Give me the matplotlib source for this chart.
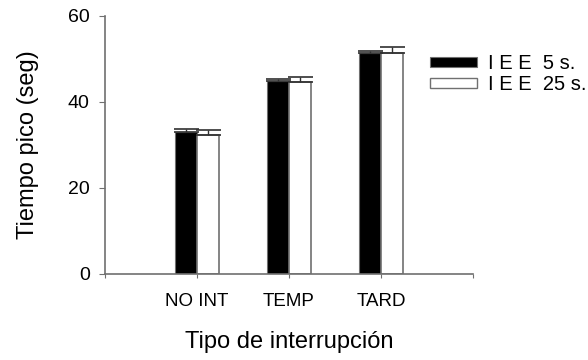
import matplotlib
matplotlib.use("Agg")
import matplotlib.pyplot as plt
from matplotlib.patches import Rectangle
import numpy as np

plt.rcParams['font.family'] = ['Liberation Sans', 'DejaVu Sans']

categories = ["NO INT", "TEMP", "TARD"]
iee5 = [33.1, 45.0, 51.3]
iee5_err = [0.7, 0.4, 0.6]
iee25 = [32.4, 44.7, 51.5]
iee25_err = [1.0, 1.0, 1.4]
series_labels = ["I E E  5 s.", "I E E  25 s."]

fig = plt.figure(figsize=(5.88, 3.6), dpi=100)
ax = fig.add_axes([105/588, (360-274)/360, (473-105)/588, (274-16)/360])

x = np.arange(1, len(categories) + 1)
w = 0.24
gray = '#707070'
ax.bar(x - w/2, iee5, w, color='black', edgecolor=gray, linewidth=0.8, zorder=2)
ax.bar(x + w/2, iee25, w, color='white', edgecolor=gray, linewidth=1.2, zorder=2)
ax.errorbar(x - w/2, iee5, yerr=[np.zeros(3), iee5_err], fmt='none', ecolor='#303030',
            elinewidth=1, capsize=9, capthick=1.2, zorder=3)
ax.errorbar(x + w/2, iee25, yerr=[np.zeros(3), iee25_err], fmt='none', ecolor='#303030',
            elinewidth=1, capsize=9, capthick=1.2, zorder=3)

ax.set_xlim(0, 4)
ax.set_ylim(0, 60)
ax.set_yticks([0, 20, 40, 60])
ax.set_xticks([0, 1, 2, 3, 4])
ax.set_xticklabels(["", "", "", "", ""])
for xi, c in zip(x, categories):
    ax.text(xi, -4.4, c, ha='center', va='top', fontsize=13.5)
ax.tick_params(axis='both', direction='out', length=4, color=gray, labelsize=14)
ax.tick_params(axis='y', pad=7)
ax.tick_params(axis='x', length=3)
for s in ['top', 'right']:
    ax.spines[s].set_visible(False)
for s in ['left', 'bottom']:
    ax.spines[s].set_color(gray)
    ax.spines[s].set_linewidth(1.2)

ax.set_ylabel("Tiempo pico (seg)", fontsize=17, labelpad=21)
fig.text(289/588, 1 - 342/360, "Tipo de interrupción", ha='center', va='center', fontsize=17)

handles = [Rectangle((0, 0), 1, 1, facecolor='black', edgecolor=gray, linewidth=0.8),
           Rectangle((0, 0), 1, 1, facecolor='white', edgecolor=gray, linewidth=1)]
fig.legend(handles, series_labels, loc='upper left', bbox_to_anchor=(430/588, 1 - 54/360),
           frameon=False, fontsize=14.5, handlelength=2.35, handleheight=0.4,
           handletextpad=0.55, labelspacing=0.1, borderaxespad=0, borderpad=0)

fig.savefig("out.png", dpi=100)
